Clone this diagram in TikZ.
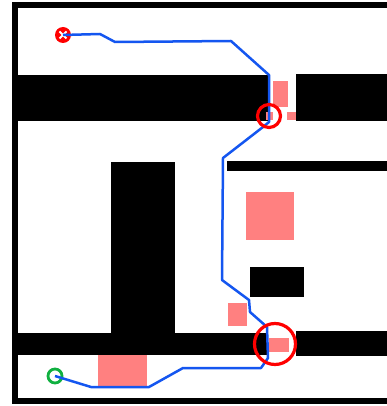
\documentclass[tikz,border=0pt]{standalone}
\usetikzlibrary{calc}
\begin{document}
\begin{tikzpicture}[x=1pt,y=-1pt,
  wall/.style={fill=black},
  obst/.style={fill=pinkobs},
  route/.style={draw=routeblue,line width=2.5pt,line join=round},
  ring/.style={draw=red,line width=3.2pt,circle,inner sep=0pt},
]
\definecolor{pinkobs}{HTML}{FF8080}
\definecolor{routeblue}{HTML}{1456F0}
\definecolor{goalgreen}{HTML}{10B040}
\useasboundingbox (0,0) rectangle (387,406);
\fill[white] (0,0) rectangle (387,406);
% frame
\fill[black] (12,2) rectangle (387,8);
\fill[black] (12,2) rectangle (18,404);
\fill[black] (12,398) rectangle (387,404);
% walls
\fill[wall] (18,75) rectangle (269,121);
\fill[wall] (296,74) rectangle (387,121);
\fill[wall] (227,161) rectangle (387,171);
\fill[wall] (111,162) rectangle (175,340);
\fill[wall] (250,267) rectangle (304,297);
\fill[wall] (18,333) rectangle (268,355);
\fill[wall] (296,331) rectangle (387,356);
% obstacles
\fill[obst] (273,81) rectangle (288,107);
\fill[obst] (266,112) rectangle (273,120);
\fill[obst] (287,112) rectangle (296,120);
\fill[obst] (246,192) rectangle (294,240);
\fill[obst] (228,303) rectangle (247,326);
\fill[obst] (269,338) rectangle (289,352);
\fill[obst] (98,355) rectangle (147,386);
% start and goal markers
\node[circle,fill=red,minimum size=16pt,inner sep=0pt] (start) at (63,35) {};
\draw[white,line width=1.8pt] ($(start)+(-3.5,-3.5)$) -- ($(start)+(3.5,3.5)$);
\draw[white,line width=1.8pt] ($(start)+(-3.5,3.5)$) -- ($(start)+(3.5,-3.5)$);
\node[circle,draw=goalgreen,line width=2.8pt,minimum size=14pt,inner sep=0pt] (goal) at (55,376) {};
% route
\draw[route] (start.center) -- (100,34) -- (115,42) -- (231,41) -- (269,75) -- (269,122)
  -- (263,127) -- (223,158) -- (222,280) -- (249,300) -- (250,312) -- (267,327)
  -- (268,358) -- (261,368) -- (183,368) -- (149,387) -- (91,387) -- (goal.center);
\node[ring,minimum size=23pt] (gate1) at (269,116) {};
\node[ring,minimum size=41pt] (gate2) at (275,344) {};
\end{tikzpicture}
\end{document}
